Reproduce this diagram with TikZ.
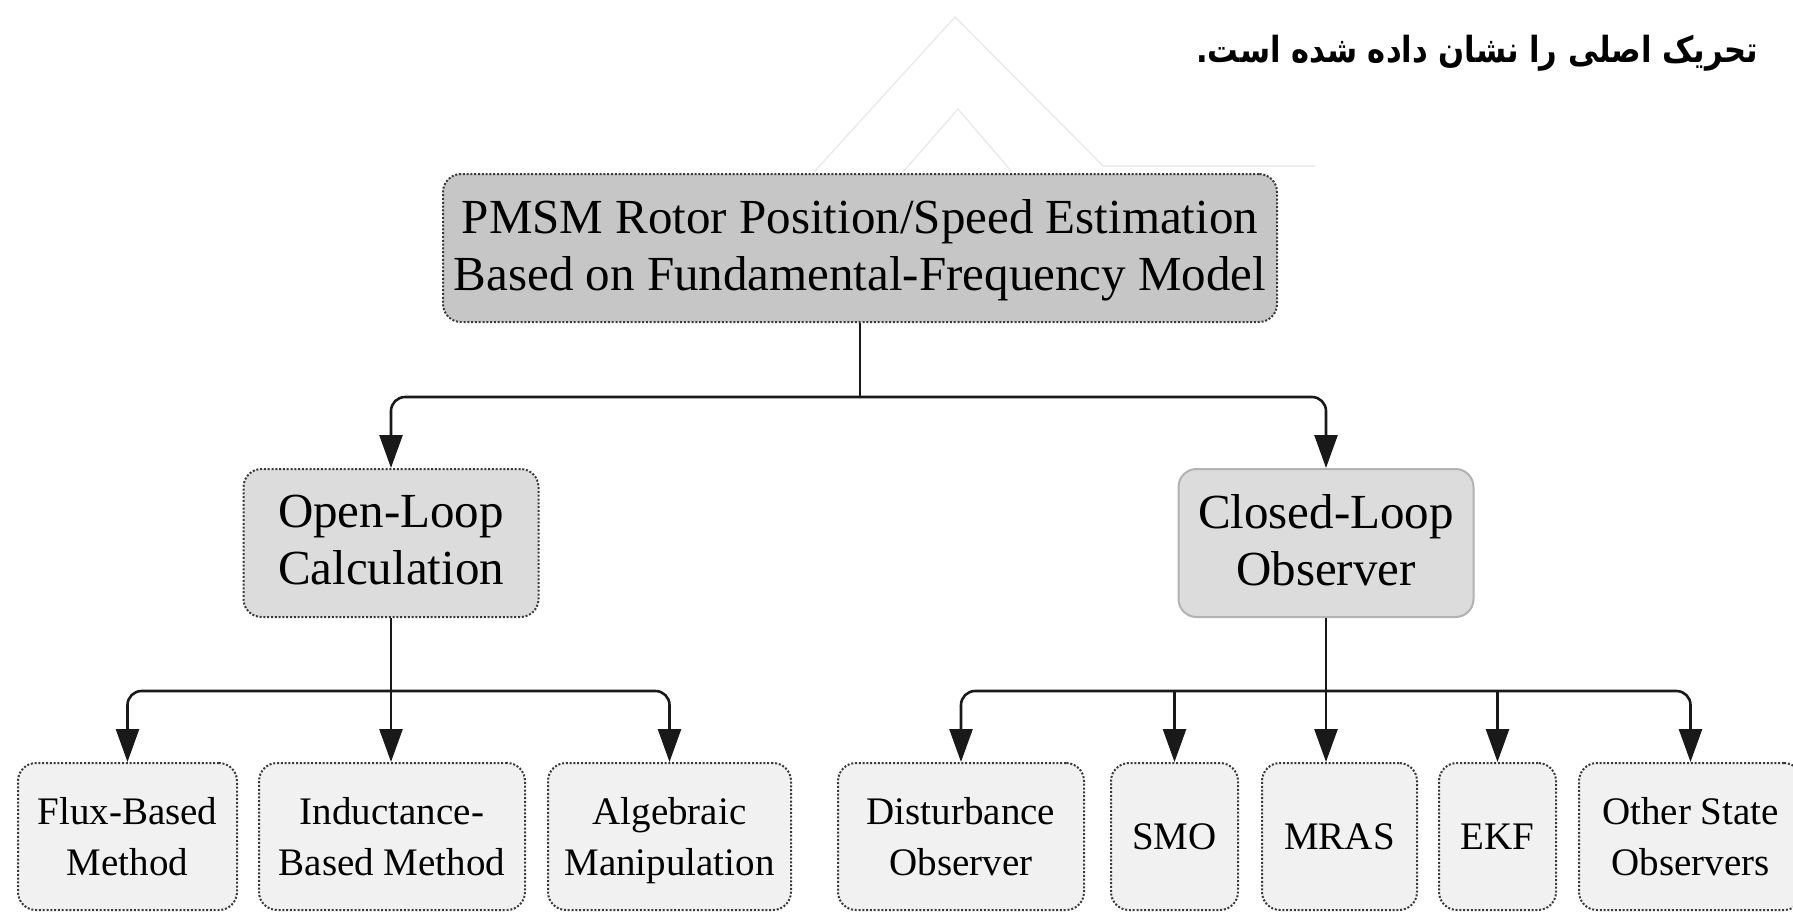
\documentclass[tikz,border=0pt]{standalone}
\usepackage{fontspec}
\setmainfont{Liberation Serif}
\newfontfamily\farsifont[Script=Arabic, FakeStretch=0.85]{DejaVu Sans}
\TeXXeTstate=1
\usepackage{tikz}
\usetikzlibrary{arrows.meta,positioning}
\definecolor{rootgray}{HTML}{C6C6C6}
\definecolor{midgray}{HTML}{DCDCDC}
\definecolor{leafgray}{HTML}{F1F1F1}
\definecolor{edgegray}{HTML}{3A3A3A}
\tikzset{
    rootbox/.style={
           rectangle, rounded corners=18pt,
           draw=edgegray, line width=2pt, dash pattern=on 2pt off 1.8pt,
           fill=rootgray,
           minimum height=148pt,
           minimum width=834pt,
           inner sep=0pt, align=center,
           text depth=7pt,
           font=\fontsize{49}{57}\selectfont
           },
    midbox/.style={
           rootbox,
           fill=midgray,
           minimum width=295pt
           },
    leafbox/.style={
           rootbox,
           fill=leafgray,
           minimum height=147pt,
           text depth=0pt,
           font=\fontsize{39}{51}\selectfont
           },
    link/.style={
           ->, line width=2.6pt, draw=black!90,
           rounded corners=14pt
           }
}

\begin{document}
\begin{tikzpicture}[x=1pt, y=-1pt, >={Triangle[length=33pt,width=23pt]}, node distance=21pt]
   \useasboundingbox (0,0) rectangle (1793,916);
   % faint marks behind the chart
   \draw[black!8, line width=1.5pt] (814,172) -- (955,17) -- (1103,166) -- (1315,166);
   \draw[black!8, line width=1.5pt] (903,172) -- (958,109) -- (1012,172);

   \node[anchor=base east, inner sep=0pt, font=\farsifont\bfseries\fontsize{36}{42}\selectfont] (caption) at (1758,62)
      {\beginR تحریک اصلی را نشان داده شده است.\endR};

   \node[rootbox] (root) at (860,248) {PMSM Rotor Position/Speed Estimation\\Based on Fundamental-Frequency Model};
   \node[midbox] (open) at (391,543) {Open-Loop\\Calculation};
   \node[midbox, solid, draw=black!30] (closed) at (1326,543) {Closed-Loop\\Observer};

   \node[leafbox, minimum width=219pt] (flux) at (127.5,836.5) {Flux-Based\\Method};
   \node[leafbox, minimum width=266pt] (induct) [right=20pt of flux] {Inductance-\\Based Method};
   \node[leafbox, minimum width=243pt] (algebra) [right=of induct] {Algebraic\\Manipulation};
   \node[leafbox, minimum width=246pt] (dist) [right=45pt of algebra] {Disturbance\\Observer};
   \node[leafbox, minimum width=127pt] (smo) [right=25pt of dist] {SMO};
   \node[leafbox, minimum width=155pt] (mras) [right=22pt of smo] {MRAS};
   \node[leafbox, minimum width=117pt] (ekf) [right=20pt of mras] {EKF};
   \node[leafbox, minimum width=223pt] (other) [right=of ekf] {Other State\\Observers};

   \coordinate[below=74pt of root.south] (rootbus);
   \coordinate[below=73pt of open.south] (openbus);
   \coordinate[below=73pt of closed.south] (closedbus);

   \draw[line width=2.6pt, black!90] (root.south) -- (rootbus);
   \draw[link] (rootbus) -| (open.north);
   \draw[link] (rootbus) -| (closed.north);

   \draw[link] (open.south) -- (open.south |- induct.north);
   \draw[link] (openbus) -| (flux.north);
   \draw[link] (openbus) -| (algebra.north);

   \draw[link] (closed.south) -- (closed.south |- mras.north);
   \draw[link] (closedbus) -| (dist.north);
   \draw[link] (closedbus) -| (other.north);
   \draw[link] (smo.north |- closedbus) -- (smo.north);
   \draw[link] (ekf.north |- closedbus) -- (ekf.north);
\end{tikzpicture}
\end{document}
